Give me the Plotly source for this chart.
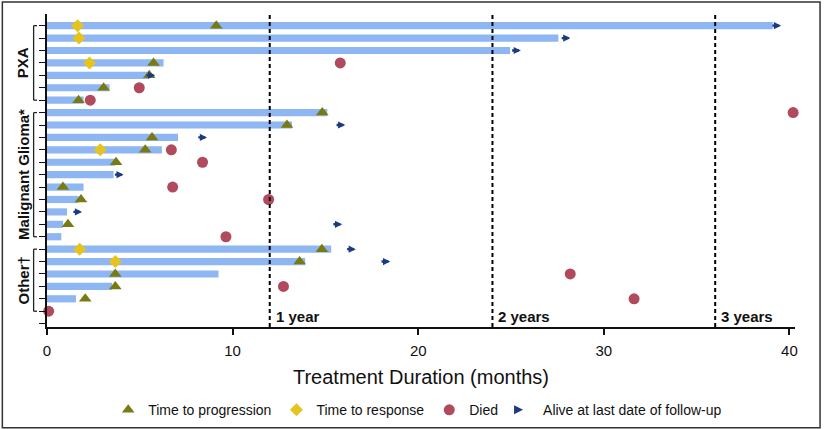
import plotly.graph_objects as go

# ---------------- data ----------------
rows = list(range(1, 25))
bar_end = [39.1, 27.55, 24.95, 6.28, 5.46, 3.37, 1.97,
           15.1, 13.2, 7.06, 6.19, 3.68, 3.59, 1.97, 1.70, 1.08, 0.86, 0.77,
           15.31, 13.91, 9.24, 3.5, 1.56, 0]

prog_rows = [1, 4, 5, 6, 7, 8, 9, 10, 11, 12, 14, 15, 17, 19, 20, 21, 22, 23]
prog_x = [9.12, 5.74, 5.51, 3.05, 1.70, 14.83, 12.93, 5.66, 5.29, 3.72, 0.86, 1.83, 1.13,
          14.81, 13.61, 3.68, 3.68, 2.06]

resp_rows = [1, 2, 4, 11, 19, 20]
resp_x = [1.65, 1.72, 2.29, 2.87, 1.76, 3.68]

died_rows = [4, 6, 7, 8, 11, 12, 14, 15, 18, 21, 22, 23, 24]
died_x = [15.8, 4.97, 2.33, 40.2, 6.7, 8.38, 6.77, 11.94, 9.64, 28.19, 12.74, 31.63, 0.09]

alive_rows = [1, 2, 3, 5, 9, 10, 13, 16, 17, 19, 20]
alive_x = [39.55, 28.2, 25.53, 5.83, 16.07, 8.62, 4.13, 1.89, 15.9, 16.64, 18.49]

groups = ["PXA", "Malignant Glioma*", "Other†"]
group_first = [1, 8, 19]
group_last = [7, 18, 24]

year_months = [12, 24, 36]
year_labels = ["1 year", "2 years", "3 years"]

x_ticks = [0, 10, 20, 30, 40]
legend_names = ["Time to progression", "Time to response", "Died", "Alive at last date of follow-up"]

# ---------------- styles ----------------
BAR = "#8db6f2"
OLIVE = "#7a7a12"
GOLD = "#e6c41e"
RED = "#b04a5c"
NAVY = "#1b3a82"
SANS = "Liberation Sans, Arial, sans-serif"
ARROW_LEN = 0.55  # months, shaft length of the follow-up arrows

fig = go.Figure()

fig.add_trace(go.Bar(
    x=bar_end, y=rows, base=0, orientation="h", width=0.58,
    marker=dict(color=BAR, line=dict(width=0)), showlegend=False, hoverinfo="skip"))

fig.add_trace(go.Scatter(
    x=prog_x, y=prog_rows, mode="markers", name=legend_names[0],
    marker=dict(symbol="triangle-up", size=11, color=OLIVE), cliponaxis=False))
fig.add_trace(go.Scatter(
    x=resp_x, y=resp_rows, mode="markers", name=legend_names[1],
    marker=dict(symbol="diamond", size=10, color=GOLD), cliponaxis=False))
fig.add_trace(go.Scatter(
    x=died_x, y=died_rows, mode="markers", name=legend_names[2],
    marker=dict(symbol="circle", size=11, color=RED), cliponaxis=False))
fig.add_trace(go.Scatter(
    x=[None], y=[None], mode="markers", name=legend_names[3],
    marker=dict(symbol="arrow-right", size=9, color=NAVY)))

shapes = []
annotations = []

# alive-at-follow-up arrows
for xv, r in zip(alive_x, alive_rows):
    annotations.append(dict(x=xv, y=r, xref="x", yref="y", ax=xv - ARROW_LEN, ay=r,
                            axref="x", ayref="y", text="", showarrow=True,
                            arrowhead=2, arrowsize=0.6, arrowwidth=2.4, arrowcolor=NAVY,
                            standoff=0, startstandoff=0))

for m, lab in zip(year_months, year_labels):
    shapes.append(dict(type="line", xref="x", yref="paper", x0=m, x1=m, y0=0, y1=1,
                       line=dict(color="black", width=2, dash="4px,3px")))
    annotations.append(dict(x=m, y=24.45, xref="x", yref="y", text="<b>%s</b>" % lab,
                            showarrow=False, xanchor="left", yanchor="middle", xshift=4,
                            font=dict(family=SANS, size=15, color="#111")))

# brackets and group labels
bx0, bx1 = -0.0179, -0.0134
for g, a, b in zip(groups, group_first, group_last):
    shapes.append(dict(type="line", xref="paper", yref="y", x0=bx0, x1=bx0, y0=a, y1=b,
                       line=dict(color="#222", width=1.3)))
    for yy in (a, b):
        shapes.append(dict(type="line", xref="paper", yref="y", x0=bx0, x1=bx1, y0=yy, y1=yy,
                           line=dict(color="#222", width=1.3)))
    annotations.append(dict(x=-0.0317, y=(a + b) / 2, xref="paper", yref="y",
                            text="<b>%s</b>" % g, showarrow=False, textangle=-90,
                            xanchor="center", yanchor="middle",
                            font=dict(family=SANS, size=15, color="#111")))

# outer frame
shapes.append(dict(type="rect", xref="paper", yref="paper", x0=-0.0597, x1=1.0335,
                   y0=-0.322, y1=1.038, line=dict(color="#333", width=1.5)))

fig.update_layout(
    width=825, height=429,
    margin=dict(l=46.7, r=30.1, t=14, b=102.3, autoexpand=False),
    paper_bgcolor="white", plot_bgcolor="white",
    barmode="overlay",
    shapes=shapes, annotations=annotations,
    showlegend=True,
    legend=dict(orientation="h", x=0.4956, xanchor="center", y=-0.266, yanchor="middle",
                font=dict(family=SANS, size=14, color="#111"), itemwidth=30,
                bgcolor="rgba(0,0,0,0)"),
    font=dict(family=SANS, color="#111"),
)
fig.update_xaxes(range=[0, 40.3], tickvals=x_ticks, ticks="outside", ticklen=6, tickwidth=1.5,
                 tickcolor="#111", showline=True, linecolor="#111", linewidth=1.5,
                 showgrid=False, zeroline=False, ticklabelstandoff=3,
                 tickfont=dict(family=SANS, size=15, color="#111"),
                 title=dict(text="Treatment Duration (months)", standoff=12,
                            font=dict(family=SANS, size=20, color="#111")))
fig.update_yaxes(range=[25.27, 0.06], tickvals=list(range(1, 26)), showticklabels=False,
                 ticks="outside", ticklen=6, tickwidth=1.3, tickcolor="#111",
                 showline=True, linecolor="#111", linewidth=1.5,
                 showgrid=False, zeroline=False)

fig.write_html("out.html", config={"displayModeBar": False},
               post_script="document.body.style.margin='0';document.body.style.overflow='hidden';")
